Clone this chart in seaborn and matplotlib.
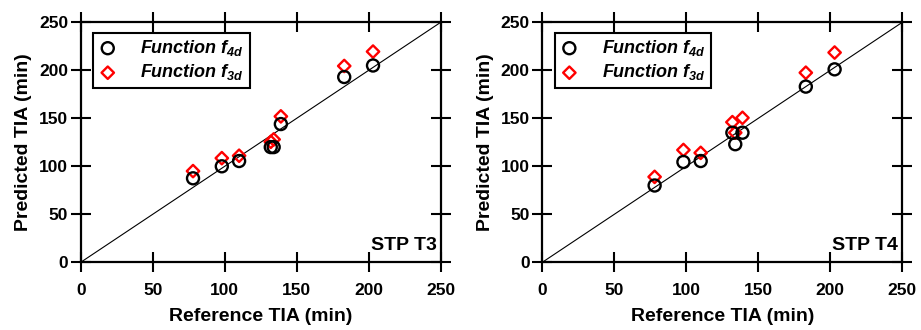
import matplotlib
matplotlib.use("Agg")
import matplotlib.pyplot as plt
import seaborn as sns
import pandas as pd

# reference TIA values (shared by both panels)
ref_tia = [78, 98, 110, 132, 134, 139, 183, 203]

# STP T3 predictions
t3_f4d = [87.5, 100, 105.5, 120, 120, 144, 193, 205]
t3_f3d = [95, 108.5, 111, 125.5, 128, 152, 204.5, 219.5]

# STP T4 predictions
t4_f4d = [80, 104.5, 105.5, 135, 123, 135, 183, 201]
t4_f3d = [89, 117, 114, 146, 135, 150.5, 197.5, 218.5]

panels = [("STP T3", t3_f4d, t3_f3d), ("STP T4", t4_f4d, t4_f3d)]
ticks = [0, 50, 100, 150, 200, 250]

sns.set_style("ticks")
plt.rcParams["font.family"] = ["Liberation Sans", "DejaVu Sans"]
plt.rcParams["font.weight"] = "bold"
for key in ["text.color", "axes.labelcolor", "xtick.color", "ytick.color", "axes.edgecolor"]:
    plt.rcParams[key] = "black"
plt.rcParams["mathtext.fontset"] = "custom"
plt.rcParams["mathtext.it"] = "Liberation Sans:italic:bold"
plt.rcParams["mathtext.rm"] = "Liberation Sans:italic:bold"
plt.rcParams["mathtext.bf"] = "Liberation Sans:italic:bold"

fig = plt.figure(figsize=(9.21, 3.30), dpi=100)
lefts = [80.7 / 921, 542.3 / 921]
width = 360 / 921
bottom = 1 - 262.3 / 330
height = 240 / 330

for left, (name, f4d, f3d) in zip(lefts, panels):
    ax = fig.add_axes([left, bottom, width, height])
    ax.plot([0, 250], [0, 250], color="black", lw=0.8, zorder=1)
    d4 = pd.DataFrame({"ref": ref_tia, "pred": f4d})
    d3 = pd.DataFrame({"ref": ref_tia, "pred": f3d})
    sns.scatterplot(data=d4, x="ref", y="pred", ax=ax, marker="o", s=75,
                    facecolors="none", edgecolors="black", linewidth=1.7,
                    label=r"Function $f_{4d}$", zorder=3)
    sns.scatterplot(data=d3, x="ref", y="pred", ax=ax, marker="D", s=40,
                    facecolors="none", edgecolors="red", linewidth=1.7,
                    label=r"Function $f_{3d}$", zorder=2)
    ax.set_xlim(0, 250)
    ax.set_ylim(0, 250)
    ax.set_xticks(ticks)
    ax.set_yticks(ticks)
    ax.set_xlabel("Reference TIA (min)", fontsize=14, fontweight="bold", labelpad=7)
    ax.set_ylabel("Predicted TIA (min)", fontsize=14, fontweight="bold", labelpad=5)
    ax.tick_params(direction="inout", length=14, width=1.5, labelsize=12.5,
                   top=True, right=True)
    ax.tick_params(axis="x", pad=8)
    ax.tick_params(axis="y", pad=2)
    for lbl in ax.get_xticklabels() + ax.get_yticklabels():
        lbl.set_fontweight("bold")
    for sp in ax.spines.values():
        sp.set_linewidth(1.6)
    ax.text(0.988, 0.035, name, transform=ax.transAxes, ha="right", va="bottom",
            fontsize=14, fontweight="bold")
    leg = ax.legend(loc="upper left", bbox_to_anchor=(0.02, 0.98), frameon=True,
                    fancybox=False, edgecolor="black", framealpha=1,
                    prop={"size": 13, "weight": "bold", "style": "italic"},
                    handletextpad=1.3, borderpad=0.3, labelspacing=0.25,
                    handlelength=1.0, borderaxespad=0.3)
    leg.get_frame().set_linewidth(1.5)

fig.savefig("out.png", dpi=100)
